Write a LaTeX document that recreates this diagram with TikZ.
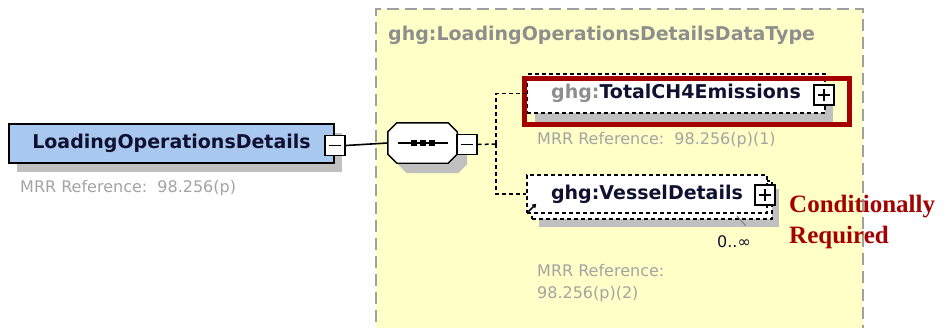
\documentclass[tikz,border=0pt]{standalone}
\usepackage{fontspec}
\setmainfont{DejaVu Sans}
\newfontfamily\condfont{Liberation Serif}
\usepackage{tikz}
\usetikzlibrary{arrows.meta}
\definecolor{ctyellow}{HTML}{FFFFC8}
\definecolor{ctborder}{HTML}{A0A0A0}
\definecolor{rootblue}{HTML}{A8C8F0}
\definecolor{shadowgray}{HTML}{C0C0C0}
\definecolor{nsgray}{HTML}{8E8E8E}
\definecolor{refgray}{HTML}{A4A4A4}
\definecolor{namenavy}{HTML}{101030}
\definecolor{hired}{HTML}{A50000}
\newcommand\octpath[1]{([xshift=9]#1.north west) -- ([xshift=-9]#1.north east) -- ([yshift=-9]#1.north east) -- ([yshift=9]#1.south east) -- ([xshift=-9]#1.south east) -- ([xshift=9]#1.south west) -- ([yshift=9]#1.south west) -- ([yshift=-9]#1.north west) -- cycle}

\begin{document}
\begin{tikzpicture}[x=1pt, y=-1pt, every node/.style={font=\fontsize{19}{22}\selectfont\bfseries, text=namenavy}, ctbox/.style={draw=ctborder,fill=ctyellow,line width=2pt,dash pattern=on 12pt off 6pt,anchor=north west}, rootbox/.style={draw=black,fill=rootblue,line width=1.6pt,preaction={fill=shadowgray,transform canvas={shift={(8pt,-9pt)}}}}, elembox/.style={draw=black,fill=white,line width=1.5pt,dash pattern=on 4pt off 3pt,preaction={fill=shadowgray,transform canvas={shift={(8pt,-10pt)}}}}, multibox/.style={draw=black,fill=white,line width=1.5pt,dash pattern=on 4pt off 3pt,preaction={fill=shadowgray,transform canvas={shift={(12pt,-14pt)}}},preaction={draw=black,fill=white,line width=1.5pt,dash pattern=on 4pt off 3pt,transform canvas={shift={(5pt,-6pt)}}}}, seqbox/.style={inner sep=0pt}, minusbox/.style={draw=black,fill=white,line width=1.4pt,minimum size=20pt,inner sep=0pt,path picture={\draw[line width=1.4pt] ([xshift=-6pt]path picture bounding box.center) -- ([xshift=6pt]path picture bounding box.center);}}, plusbox/.style={minusbox,path picture={\draw[line width=1.4pt] ([xshift=-6pt]path picture bounding box.center) -- ([xshift=6pt]path picture bounding box.center) ([yshift=-6pt]path picture bounding box.center) -- ([yshift=6pt]path picture bounding box.center);}}, hilite/.style={draw=hired,line width=5pt}, refnote/.style={font=\fontsize{16}{22}\selectfont,text=refgray,anchor=west,align=left,inner sep=0pt}, conn/.style={line width=1.5pt,dash pattern=on 4pt off 3pt}]
\useasboundingbox (0,0) rectangle (946,327);
\fill[white] (0,0) rectangle (946,327);
\node[ctbox,minimum width=487,minimum height=345] (ldt) at (375,8) {};
\node[font=\fontsize{19}{22}\selectfont\bfseries,text=nsgray,anchor=west,inner sep=0pt] (ldtt) at (388,35) {ghg:LoadingOperationsDetailsDataType};
\node[rootbox,minimum width=325,minimum height=39] (lod) at (171.5,143.5) {LoadingOperationsDetails};
\node[minusbox] (lodm) at (335,145.5) {};
\node[refnote] (lodr) at (20,188) {MRR Reference:\ \ 98.256(p)};
\node[seqbox,minimum width=69,minimum height=40] (seq) at (422.5,143) {};
\fill[shadowgray,transform canvas={shift={(10pt,-10pt)}}] \octpath{seq};
\draw[line width=1.4pt,fill=white] \octpath{seq};
\draw[line width=1.4pt] ([xshift=-25]seq.center) -- ([xshift=25]seq.center);
\foreach \d in {-9,0,9} \fill ([xshift=\d]seq.center) +(-3,-3) rectangle +(3,3);
\node[minusbox] (seqm) at (467,144.5) {};
\coordinate (fork) at (496,144);
\node[elembox,minimum width=298,minimum height=39] (tce) at (676,93.5) {\textcolor{nsgray}{ghg:}TotalCH4Emissions};
\node[plusbox] (tcep) at (824,95) {};
\node[hilite,minimum width=325,minimum height=46] (tceh) at (687,101.5) {};
\node[refnote] (tcer) at (537,140) {MRR Reference:\ \ 98.256(p)(1)};
\node[multibox,minimum width=240,minimum height=38] (ves) at (647,194) {ghg:VesselDetails};
\node[plusbox] (vesp) at (765,195) {};
\node[font=\fontsize{16}{20}\selectfont,text=namenavy] (vesn) at (734,242) {0..∞};
\node[refnote] (vesr) at (537,283) {MRR Reference:\\98.256(p)(2)};
\node[font=\condfont\fontsize{25}{31}\selectfont\bfseries,text=hired,anchor=west,align=left,inner sep=0pt] (cond) at (789,222) {Conditionally\\Required};
\draw[line width=1.5pt,-{Triangle[length=4pt,width=5pt]}] ([shift={(2,-2)}]ves.south west) -- ++(8,-8);
\draw[line width=1pt,gray] ([shift={(-31,2)}]ves.south east) -- ++(9,10);
\draw[line width=1.6pt] (lodm.east) -- (seq.west);
\draw[conn] (seqm.east) -- (fork);\draw[conn] (fork) |- (tce.west);\draw[conn] (fork) |- (ves.west);
\end{tikzpicture}
\end{document}
